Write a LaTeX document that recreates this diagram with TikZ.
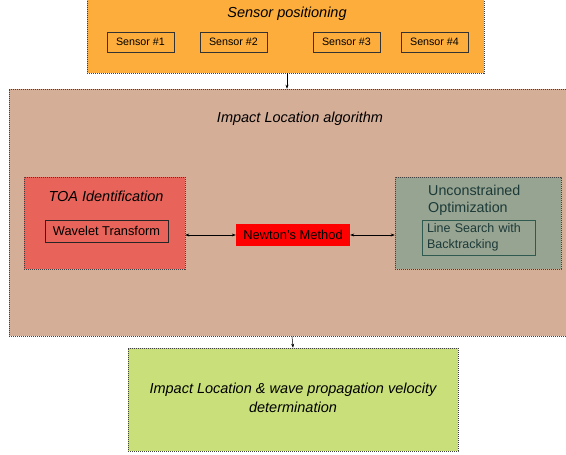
\documentclass[tikz,border=0pt]{standalone}
\usepackage{fontspec}
\setmainfont{Liberation Sans}
\usetikzlibrary{arrows.meta}
\definecolor{orangeC}{HTML}{FCAD3C}
\definecolor{brownC}{HTML}{D5AE98}
\definecolor{redC}{HTML}{E8645A}
\definecolor{grayC}{HTML}{97A492}
\definecolor{greenC}{HTML}{C9E07A}
\definecolor{darkteal}{HTML}{1C3A38}
\definecolor{boxline}{HTML}{2F5A50}
\tikzset{
  dbox/.style={draw=black!75, dash pattern=on 1.2pt off 0.8pt, line width=0.6pt, inner sep=0pt},
  sbox/.style={draw=black!80, line width=0.6pt, minimum width=67pt, minimum height=20pt, inner sep=0pt, font=\fontsize{10.7}{12}\selectfont},
  arr/.style={-{Stealth[length=4pt,width=3pt]}, line width=0.5pt},
  darr/.style={{Stealth[length=4pt,width=3pt]}-{Stealth[length=4pt,width=3pt]}, line width=0.5pt},
  ttl/.style={font=\fontsize{14.5}{17}\selectfont\itshape}
}
\begin{document}
\begin{tikzpicture}[x=1pt,y=-1pt]
\clip (0,0) rectangle (566,455);
\fill[white] (0,0) rectangle (566,455);
% top
\node[dbox, fill=orangeC, minimum width=397pt, minimum height=80pt] (orange) at (285.5,33) {};
\node[ttl] (stitle) at (287,14) {Sensor positioning};
\node[sbox] (s1) at (140.5,42) {Sensor \#1};
\node[sbox] (s2) at (233.5,42) {Sensor \#2};
\node[sbox] (s3) at (346.5,42) {Sensor \#3};
\node[sbox] (s4) at (434.5,42) {Sensor \#4};
% middle
\node[dbox, fill=brownC, minimum width=566pt, minimum height=247pt] (brown) at (292,212.5) {};
\node[ttl] (atitle) at (300,119) {Impact Location algorithm};
\node[dbox, fill=redC, minimum width=161pt, minimum height=92pt] (toa) at (104.5,223) {};
\node[ttl] (toatitle) at (106,196) {TOA Identification};
\node[draw=black!85, line width=0.6pt, minimum width=123pt, minimum height=22pt, inner sep=0pt, font=\fontsize{12.8}{14}\selectfont] (wav) at (106.5,231) {Wavelet Transform};
\node[fill=red, minimum width=114pt, minimum height=22pt, inner sep=0pt, font=\fontsize{12.9}{14}\selectfont] (newton) at (293,235) {Newton’s Method};
\node[dbox, fill=grayC, minimum width=166pt, minimum height=92pt] (opt) at (478,223) {};
\node[anchor=north west, align=left, text=darkteal, inner sep=0pt, font=\fontsize{14.3}{17.5}\selectfont] (opttitle) at (428,184.5) {Unconstrained\\Optimization};
\node[draw=boxline, line width=0.6pt, minimum width=113pt, minimum height=35pt, inner sep=0pt, align=left, text=darkteal, text width=104pt, font=\fontsize{12.5}{16}\selectfont] (ls) at (479,237.5) {Line Search with\\Backtracking};
% bottom
\node[dbox, fill=greenC, minimum width=330pt, minimum height=103pt] (final) at (293,399.5) {};
\node[ttl, align=center, font=\fontsize{14.5}{19}\selectfont\itshape] (ftext) at (293,397.5) {Impact Location \& wave propagation velocity\\determination};
% connectors
\draw[arr] (orange.south -| stitle) -- (stitle |- brown.north);
\draw[arr] (brown.south) -- (final.north);
\draw[darr] (toa.east |- newton) -- (newton.west);
\draw[darr] (newton.east) -- (opt.west |- newton);
\end{tikzpicture}
\end{document}
